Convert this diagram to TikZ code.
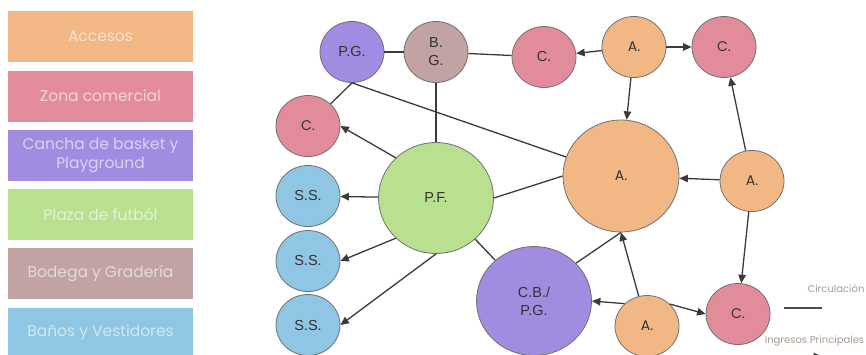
\documentclass[tikz,border=0pt]{standalone}
\usepackage{fontspec}
\setmainfont{Liberation Sans}
\newfontfamily\qfont{Poppins}
\usetikzlibrary{shapes.geometric,arrows.meta}
\definecolor{acc}{HTML}{F1B886}
\definecolor{zon}{HTML}{E28C9B}
\definecolor{can}{HTML}{A08DE1}
\definecolor{pla}{HTML}{B9E08F}
\definecolor{bod}{HTML}{C2A3A3}
\definecolor{ban}{HTML}{8EC6E3}
\definecolor{edge}{HTML}{3A3A3A}
\definecolor{rim}{HTML}{707070}
\definecolor{note}{HTML}{A89A92}
\tikzset{
  legbox/.style={draw=none, minimum width=185pt, minimum height=51pt, inner sep=0pt,
    text=white, text opacity=0.6, align=center, font=\qfont\fontsize{15.5}{19}\selectfont},
  zone/.style={ellipse, draw=rim, line width=0.8pt, minimum width=64pt, minimum height=61pt,
    inner sep=0pt, align=center, text=black!80, font=\fontsize{14.5}{18}\selectfont},
  qzone/.style={zone, font=\qfont\fontsize{14}{18}\selectfont},
  bigzone/.style={minimum width=115pt, minimum height=111pt},
  link/.style={draw=edge, line width=1.3pt},
  arr/.style={link, -{Triangle[length=8.5pt,width=7.5pt]}},
  notetext/.style={text=note, font=\qfont\fontsize{10}{11}\selectfont, inner sep=0pt}
}
\begin{document}
\begin{tikzpicture}[x=1pt,y=-1pt]
\useasboundingbox (0,0) rectangle (866,354);
% legend boxes
\node[legbox, fill=acc] (L1) at (100.5,36.5) {Accesos};
\node[legbox, fill=zon] (L2) at (100.5,96) {Zona comercial};
\node[legbox, fill=can] (L3) at (100.5,155) {Cancha de basket y\\Playground};
\node[legbox, fill=pla] (L4) at (100.5,214) {Plaza de futból};
\node[legbox, fill=bod] (L5) at (100.5,273.5) {Bodega y Gradería};
\node[legbox, fill=ban] (L6) at (100.5,333) {Baños y Vestidores};
% zones
\node[zone, fill=can] (PG) at (352,52) {P.G.};
\node[zone, fill=bod] (BG) at (436,52) {B.\\G.};
\node[zone, fill=zon] (Cm) at (544,57) {C.};
\node[qzone, fill=zon] (Cl) at (308,126) {C.};
\node[zone, bigzone, fill=pla] (PF) at (436,198) {P.F.};
\node[zone, fill=ban] (SS1) at (308,196) {S.S.};
\node[zone, fill=ban] (SS2) at (308,261) {S.S.};
\node[zone, fill=ban] (SS3) at (308,325) {S.S.};
\node[zone, bigzone, minimum height=109pt, fill=can] (CB) at (534,301) {C.B./\\P.G.};
\node[qzone, bigzone, minimum width=116pt, minimum height=112pt, fill=acc] (Abig) at (621,176) {A.};
\node[qzone, fill=acc] (Atop) at (634,47) {A.};
\node[qzone, fill=zon] (Ctr) at (724,47) {C.};
\node[qzone, fill=acc] (Ar) at (752,181) {A.};
\node[qzone, fill=zon] (Cbr) at (738,314) {C.};
\node[qzone, fill=acc] (Abot) at (647,326) {A.};
% plain links
\draw[link] (PG) -- (BG);
\draw[link] (BG) -- (Cm);
\draw[link] (PG.south) -- (Cl);
\draw[link] (PG.south) -- (Abig);
\draw[link] (BG.south) -- (PF.north);
\draw[link] (PF.east) -- (Abig.west);
\draw[link] (PF) -- (CB);
\draw[link] (CB.42) -- (Abig.south);
% arrows
\draw[arr] (PF.135) -- (Cl.east);
\draw[arr] (PF) -- (SS1);
\draw[arr] (PF.225) -- (SS2.east);
\draw[arr] (PF.south) -- (SS3.east);
\draw[arr] (Atop) -- (Cm);
\draw[arr] (Atop) -- (Ctr);
\draw[arr] (Atop) -- (Abig);
\draw[arr] (Ar) -- (Ctr);
\draw[arr] (Ar) -- (Abig);
\draw[arr] (Ar) -- (Cbr);
\draw[arr] (Abot) -- (Abig.south);
\draw[arr] (Abot.135) -- (CB.east);
\draw[arr] (Abot.44) -- (Cbr.west);
% key
\node[notetext] (kc) at (836,289) {Circulación};
\coordinate (ka) at (784,308);
\coordinate (kb) at (822,308);
\draw[draw=edge!90, line width=2.4pt] (ka) -- (kb);
\node[notetext] (ki) at (814.5,341) {Ingresos Principales};
\coordinate (kc1) at (784,356.5);
\coordinate (kc2) at (822,356.5);
\draw[arr] (kc1) -- (kc2);
\end{tikzpicture}
\end{document}
